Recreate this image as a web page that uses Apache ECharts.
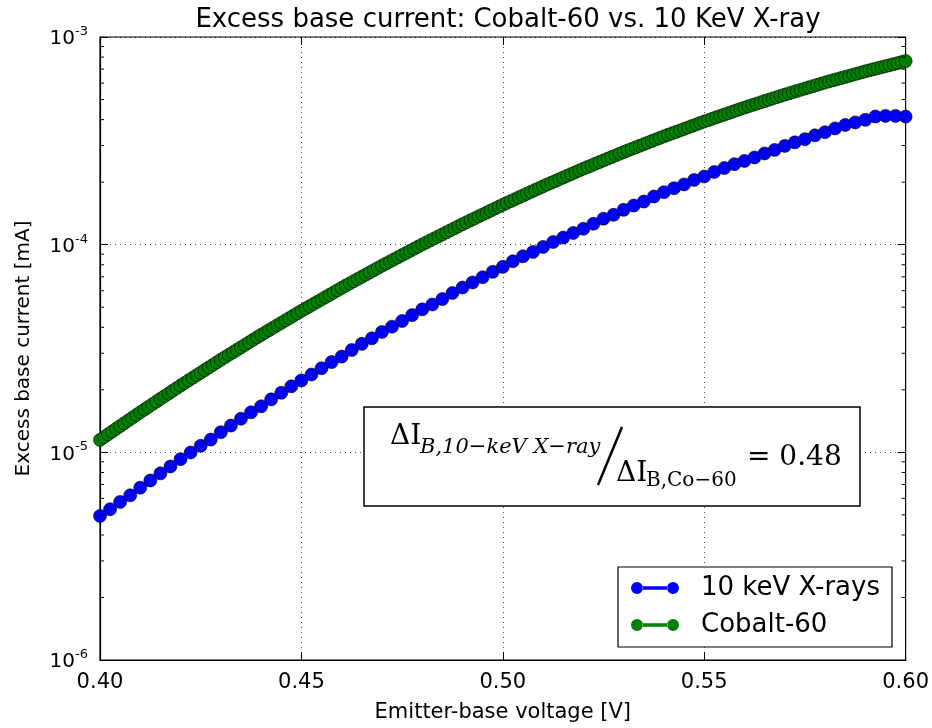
<!DOCTYPE html>
<html>
<head>
<meta charset="utf-8">
<script src="https://cdn.jsdelivr.net/npm/echarts@6/dist/echarts.min.js"></script>
<style>
html, body { margin: 0; padding: 0; background: #fff; }
#chart { width: 932px; height: 728px; }
</style>
</head>
<body>
<div id="chart"></div>
<script>
// 10 keV X-ray run, one point every 2.5 mV
var voltsXray = [0.4000,0.4025,0.4050,0.4075,0.4100,0.4125,0.4150,0.4175,0.4200,0.4225,
  0.4250,0.4275,0.4300,0.4325,0.4350,0.4375,0.4400,0.4425,0.4450,0.4475,
  0.4500,0.4525,0.4550,0.4575,0.4600,0.4625,0.4650,0.4675,0.4700,0.4725,
  0.4750,0.4775,0.4800,0.4825,0.4850,0.4875,0.4900,0.4925,0.4950,0.4975,
  0.5000,0.5025,0.5050,0.5075,0.5100,0.5125,0.5150,0.5175,0.5200,0.5225,
  0.5250,0.5275,0.5300,0.5325,0.5350,0.5375,0.5400,0.5425,0.5450,0.5475,
  0.5500,0.5525,0.5550,0.5575,0.5600,0.5625,0.5650,0.5675,0.5700,0.5725,
  0.5750,0.5775,0.5800,0.5825,0.5850,0.5875,0.5900,0.5925,0.5950,0.5975,0.6000];
var xrayCurrent = [4.94e-6,5.32e-6,5.77e-6,6.21e-6,6.76e-6,7.32e-6,7.92e-6,8.55e-6,9.27e-6,9.98e-6,
  1.075e-5,1.152e-5,1.25e-5,1.345e-5,1.452e-5,1.558e-5,1.666e-5,1.799e-5,1.935e-5,2.08e-5,
  2.22e-5,2.37e-5,2.54e-5,2.72e-5,2.89e-5,3.11e-5,3.33e-5,3.54e-5,3.80e-5,4.03e-5,
  4.29e-5,4.58e-5,4.88e-5,5.15e-5,5.47e-5,5.85e-5,6.22e-5,6.58e-5,6.97e-5,7.40e-5,
  7.82e-5,8.32e-5,8.79e-5,9.23e-5,9.75e-5,1.030e-4,1.082e-4,1.138e-4,1.193e-4,1.261e-4,
  1.333e-4,1.393e-4,1.472e-4,1.543e-4,1.613e-4,1.705e-4,1.789e-4,1.870e-4,1.950e-4,2.05e-4,
  2.13e-4,2.24e-4,2.34e-4,2.44e-4,2.53e-4,2.63e-4,2.75e-4,2.86e-4,2.99e-4,3.11e-4,
  3.22e-4,3.36e-4,3.48e-4,3.63e-4,3.77e-4,3.88e-4,3.99e-4,4.14e-4,4.17e-4,4.17e-4,4.14e-4];

// Cobalt-60 run, one point every 1 mV
var voltsCobalt = [0.400,0.401,0.402,0.403,0.404,0.405,0.406,0.407,0.408,0.409,
  0.410,0.411,0.412,0.413,0.414,0.415,0.416,0.417,0.418,0.419,
  0.420,0.421,0.422,0.423,0.424,0.425,0.426,0.427,0.428,0.429,
  0.430,0.431,0.432,0.433,0.434,0.435,0.436,0.437,0.438,0.439,
  0.440,0.441,0.442,0.443,0.444,0.445,0.446,0.447,0.448,0.449,
  0.450,0.451,0.452,0.453,0.454,0.455,0.456,0.457,0.458,0.459,
  0.460,0.461,0.462,0.463,0.464,0.465,0.466,0.467,0.468,0.469,
  0.470,0.471,0.472,0.473,0.474,0.475,0.476,0.477,0.478,0.479,
  0.480,0.481,0.482,0.483,0.484,0.485,0.486,0.487,0.488,0.489,
  0.490,0.491,0.492,0.493,0.494,0.495,0.496,0.497,0.498,0.499,
  0.500,0.501,0.502,0.503,0.504,0.505,0.506,0.507,0.508,0.509,
  0.510,0.511,0.512,0.513,0.514,0.515,0.516,0.517,0.518,0.519,
  0.520,0.521,0.522,0.523,0.524,0.525,0.526,0.527,0.528,0.529,
  0.530,0.531,0.532,0.533,0.534,0.535,0.536,0.537,0.538,0.539,
  0.540,0.541,0.542,0.543,0.544,0.545,0.546,0.547,0.548,0.549,
  0.550,0.551,0.552,0.553,0.554,0.555,0.556,0.557,0.558,0.559,
  0.560,0.561,0.562,0.563,0.564,0.565,0.566,0.567,0.568,0.569,
  0.570,0.571,0.572,0.573,0.574,0.575,0.576,0.577,0.578,0.579,
  0.580,0.581,0.582,0.583,0.584,0.585,0.586,0.587,0.588,0.589,
  0.590,0.591,0.592,0.593,0.594,0.595,0.596,0.597,0.598,0.599,0.600];
var cobaltCurrent = [1.148e-5,1.184e-5,1.221e-5,1.259e-5,1.298e-5,1.338e-5,1.379e-5,1.423e-5,1.467e-5,1.513e-5,
  1.560e-5,1.607e-5,1.655e-5,1.705e-5,1.756e-5,1.809e-5,1.863e-5,1.919e-5,1.977e-5,2.036e-5,
  2.097e-5,2.158e-5,2.221e-5,2.285e-5,2.352e-5,2.420e-5,2.490e-5,2.562e-5,2.636e-5,2.713e-5,
  2.792e-5,2.870e-5,2.951e-5,3.032e-5,3.117e-5,3.204e-5,3.294e-5,3.387e-5,3.480e-5,3.579e-5,
  3.679e-5,3.777e-5,3.880e-5,3.983e-5,4.092e-5,4.201e-5,4.314e-5,4.431e-5,4.549e-5,4.673e-5,
  4.797e-5,4.923e-5,5.050e-5,5.181e-5,5.315e-5,5.452e-5,5.593e-5,5.737e-5,5.887e-5,6.039e-5,
  6.196e-5,6.350e-5,6.508e-5,6.669e-5,6.834e-5,7.004e-5,7.179e-5,7.357e-5,7.540e-5,7.727e-5,
  7.918e-5,8.108e-5,8.299e-5,8.500e-5,8.700e-5,8.909e-5,9.118e-5,9.337e-5,9.559e-5,9.789e-5,
  1.002e-4,1.025e-4,1.048e-4,1.072e-4,1.096e-4,1.121e-4,1.147e-4,1.173e-4,1.199e-4,1.227e-4,
  1.255e-4,1.282e-4,1.310e-4,1.338e-4,1.368e-4,1.397e-4,1.427e-4,1.459e-4,1.491e-4,1.524e-4,
  1.557e-4,1.588e-4,1.622e-4,1.655e-4,1.690e-4,1.724e-4,1.760e-4,1.797e-4,1.834e-4,1.871e-4,
  1.910e-4,1.948e-4,1.986e-4,2.025e-4,2.065e-4,2.105e-4,2.147e-4,2.189e-4,2.233e-4,2.276e-4,
  2.321e-4,2.364e-4,2.408e-4,2.454e-4,2.499e-4,2.546e-4,2.593e-4,2.641e-4,2.691e-4,2.740e-4,
  2.792e-4,2.841e-4,2.891e-4,2.942e-4,2.993e-4,3.046e-4,3.100e-4,3.154e-4,3.210e-4,3.266e-4,
  3.323e-4,3.379e-4,3.435e-4,3.492e-4,3.551e-4,3.609e-4,3.669e-4,3.730e-4,3.791e-4,3.855e-4,
  3.918e-4,3.978e-4,4.041e-4,4.104e-4,4.167e-4,4.233e-4,4.298e-4,4.364e-4,4.433e-4,4.502e-4,
  4.571e-4,4.639e-4,4.705e-4,4.773e-4,4.843e-4,4.914e-4,4.985e-4,5.057e-4,5.131e-4,5.204e-4,
  5.280e-4,5.352e-4,5.423e-4,5.496e-4,5.571e-4,5.647e-4,5.722e-4,5.799e-4,5.879e-4,5.958e-4,
  6.037e-4,6.114e-4,6.191e-4,6.266e-4,6.344e-4,6.424e-4,6.505e-4,6.585e-4,6.666e-4,6.750e-4,
  6.834e-4,6.910e-4,6.991e-4,7.071e-4,7.153e-4,7.233e-4,7.316e-4,7.401e-4,7.485e-4,7.571e-4,7.657e-4];

var seriesNames = ['10 keV X-rays', 'Cobalt-60'];
// minor ticks of the log axis (2..9 in every decade)
var minorTickValues = [2e-6,3e-6,4e-6,5e-6,6e-6,7e-6,8e-6,9e-6,
  2e-5,3e-5,4e-5,5e-5,6e-5,7e-5,8e-5,9e-5,
  2e-4,3e-4,4e-4,5e-4,6e-4,7e-4,8e-4,9e-4];

var FONT = 'DejaVu Sans';
var SERIF = 'DejaVu Serif';

function pairs(xs, ys) {
    return xs.map(function (x, i) { return [x, ys[i]]; });
}

var myChart = echarts.init(document.getElementById('chart'));

var tickStyle = {show: true, inside: true, length: 8, lineStyle: {color: '#000', width: 1}};
var gridDots = {show: true, lineStyle: {color: '#000', width: 1, type: [1, 4], opacity: 0.7}};

var option = {
    animation: false,
    backgroundColor: '#fff',
    title: {
        text: 'Excess base current: Cobalt-60 vs. 10 KeV X-ray',
        left: 503,
        top: 2,
        textAlign: 'center',
        textStyle: {fontFamily: FONT, fontSize: 26, fontWeight: 'normal', color: '#000'}
    },
    grid: {
        left: 100, right: 26, top: 37, bottom: 68,
        show: true, borderColor: '#000', borderWidth: 1.2, backgroundColor: 'transparent'
    },
    legend: {
        data: seriesNames,
        orient: 'vertical',
        left: 618,
        top: 567,
        backgroundColor: '#fff',
        borderColor: '#000',
        borderWidth: 1.2,
        borderRadius: 0,
        padding: [8, 12, 9, 13],
        itemGap: 11,
        itemWidth: 48,
        itemHeight: 12,
        icon: 'path://M0,6a6,6 0 1,0 12,0a6,6 0 1,0 -12,0z M36,6a6,6 0 1,0 12,0a6,6 0 1,0 -12,0z M11.5,4.2h25v3.6h-25z',
        itemStyle: {borderWidth: 0},
        textStyle: {fontFamily: FONT, fontSize: 26, color: '#000', padding: [0, 0, 0, 17], lineHeight: 26}
    },
    xAxis: [{
        type: 'value',
        min: 0.40, max: 0.60, interval: 0.05,
        position: 'bottom',
        name: 'Emitter-base voltage [V]',
        nameLocation: 'middle',
        nameGap: 42,
        nameTextStyle: {fontFamily: FONT, fontSize: 21, color: '#000'},
        axisLine: {show: true, onZero: false, lineStyle: {color: '#000', width: 1.2}},
        axisTick: tickStyle,
        axisLabel: {
            fontFamily: FONT, fontSize: 21, color: '#000', margin: 12,
            formatter: function (v) { return v.toFixed(2); }
        },
        splitLine: gridDots
    }, {
        type: 'value',
        min: 0.40, max: 0.60, interval: 0.05,
        position: 'top',
        axisLine: {show: false},
        axisTick: tickStyle,
        axisLabel: {show: false},
        splitLine: {show: false}
    }],
    yAxis: [{
        type: 'log',
        logBase: 10,
        min: 1e-6, max: 1e-3,
        splitNumber: 3,
        position: 'left',
        name: 'Excess base current [mA]',
        nameLocation: 'middle',
        nameGap: 66,
        nameTextStyle: {fontFamily: FONT, fontSize: 20, color: '#000'},
        axisLine: {show: true, onZero: false, lineStyle: {color: '#000', width: 1.2}},
        axisTick: tickStyle,
        axisLabel: {
            margin: 12,
            formatter: function (v) {
                var e = Math.round(Math.log(v) / Math.LN10);
                return '{b|10}{e|' + e + '}';
            },
            rich: {
                b: {fontFamily: FONT, fontSize: 20, color: '#000', lineHeight: 24, verticalAlign: 'bottom'},
                e: {fontFamily: FONT, fontSize: 13, color: '#000', lineHeight: 13, verticalAlign: 'top'}
            }
        },
        splitLine: gridDots
    }, {
        type: 'log',
        logBase: 10,
        min: 1e-6, max: 1e-3,
        splitNumber: 3,
        position: 'right',
        axisLine: {show: false},
        axisTick: tickStyle,
        axisLabel: {show: false},
        splitLine: {show: false}
    }],
    series: [{
        name: seriesNames[0],
        type: 'line',
        data: pairs(voltsXray, xrayCurrent),
        symbol: 'circle',
        symbolSize: 13,
        showSymbol: true,
        color: '#0000ff',
        lineStyle: {color: '#0000ff', width: 3},
        itemStyle: {color: '#0000ff', borderColor: '#000', borderWidth: 0.6},
        z: 3
    }, {
        name: seriesNames[1],
        type: 'line',
        data: pairs(voltsCobalt, cobaltCurrent),
        symbol: 'circle',
        symbolSize: 13,
        showSymbol: true,
        color: '#008000',
        lineStyle: {color: '#008000', width: 3},
        itemStyle: {color: '#008000', borderColor: '#000', borderWidth: 0.6},
        z: 3
    }, {
        name: 'minor',
        type: 'custom',
        silent: true,
        z: 4,
        data: minorTickValues.map(function (v) { return [0.5, v]; }),
        renderItem: function (params, api) {
            var y = api.coord([0.5, api.value(1)])[1];
            var cs = params.coordSys;
            var st = {stroke: '#000', lineWidth: 1};
            return {
                type: 'group',
                children: [
                    {type: 'line', shape: {x1: cs.x, y1: y, x2: cs.x + 4, y2: y}, style: st},
                    {type: 'line', shape: {x1: cs.x + cs.width - 4, y1: y, x2: cs.x + cs.width, y2: y}, style: st}
                ]
            };
        }
    }],
    graphic: [
        {type: 'rect', z: 100, shape: {x: 364, y: 407, width: 496, height: 99},
            style: {fill: '#fff', stroke: '#000', lineWidth: 1.5}},
        {type: 'text', z: 101, style: {x: 390, y: 437, text: 'ΔI', fill: '#000',
            font: '28px "' + SERIF + '"', verticalAlign: 'middle'}},
        {type: 'text', z: 101, style: {x: 420, y: 448, text: 'B,10−keV X−ray', fill: '#000',
            font: 'italic 21px "' + SERIF + '"', verticalAlign: 'middle'}},
        {type: 'line', z: 101, shape: {x1: 598, y1: 485, x2: 622, y2: 427},
            style: {stroke: '#000', lineWidth: 2.5}},
        {type: 'text', z: 101, style: {x: 616, y: 474, text: 'ΔI', fill: '#000',
            font: '28px "' + SERIF + '"', verticalAlign: 'middle'}},
        {type: 'text', z: 101, style: {x: 646, y: 481, text: 'B,Co−60', fill: '#000',
            font: '20px "' + SERIF + '"', verticalAlign: 'middle'}},
        {type: 'text', z: 101, style: {x: 747, y: 458, text: '= 0.48', fill: '#000',
            font: '28px "' + SERIF + '"', verticalAlign: 'middle'}}
    ]
};

myChart.setOption(option);
window.onresize = myChart.resize;
</script>
</body>
</html>
